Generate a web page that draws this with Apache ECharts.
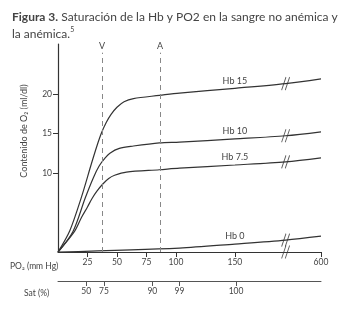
<!DOCTYPE html>
<html>
<head>
<meta charset="utf-8">
<script src="https://cdn.jsdelivr.net/npm/echarts@6/dist/echarts.min.js"></script>
<style>
  html, body {margin:0; padding:0; background:#fff;}
  #main {width:345px; height:310px;}
</style>
</head>
<body>
<div id="main"></div>
<script>
// x = position on the drawn PO2 scale (mm Hg, the axis is broken after 150: 223 is labelled 600)
var hb15 = [[0,0],[10,2.7],[20,7.0],[28,11.0],[33,13.4],[37,15.1],[41,16.4],[45,17.4],[50,18.3],[56,19.0],[64,19.4],[86,19.8],[103,20.1],[150,20.7],[193,21.3],[223,21.9]];
var hb10 = [[0,0],[12.7,2.6],[23,6.8],[30,9.4],[35,10.9],[40,11.9],[44,12.5],[52,13.1],[64,13.4],[86,13.8],[103,13.9],[150,14.3],[193,14.7],[223,15.2]];
var hb75 = [[0,0],[14,2.6],[20,4.4],[25,5.7],[29,6.8],[33,7.7],[38,8.6],[43,9.3],[48,9.7],[58,10.1],[86,10.4],[103,10.6],[150,11.0],[193,11.4],[223,11.9]];
var hb0  = [[0,0],[103,0.5],[150,1.0],[193,1.5],[223,2.0]];

var curveNames = ['Hb 15', 'Hb 10', 'Hb 7.5', 'Hb 0'];
var curveLabelAt = 150;   // x where the curve name sits

var po2Ticks  = [25, 50, 75, 100, 150, 223];
var po2Labels = ['25', '50', '75', '100', '150', '600'];
var satTicks  = [24, 39, 80, 103, 151];
var satLabels = ['50', '75', '90', '99', '100'];
var yTicks = [10, 15, 20];

var refLines = [{name:'V', x:37.3}, {name:'A', x:86.5}];
var breakX = 193;
var breakY = [21.3, 14.7, 11.4, 1.5, 0];

var txt = '#444';
var lineCol = '#333';

var myChart = echarts.init(document.getElementById('main'));

function curveSeries(pts, name, withRef){
    var s = {
        name: name,
        type: 'line',
        smooth: 0.3,
        symbol: 'circle',
        symbolSize: 0,
        showSymbol: true,
        silent: true,
        lineStyle: {color: lineCol, width: 1.2},
        itemStyle: {color: lineCol},
        data: pts.map(function(p){
            if (p[0] === curveLabelAt) {
                return {value: p,
                        label: {show: true, formatter: name, position: 'top', distance: 3,
                                color: txt, fontSize: 9, fontFamily: 'Lato'}};
            }
            return p;
        })
    };
    if (withRef) {
        s.markLine = {
            silent: true,
            symbol: 'none',
            lineStyle: {color: '#888', type: [5, 4], width: 1},
            label: {show: true, position: 'end', distance: 2, color: txt, fontSize: 9, fontFamily: 'Lato'},
            data: refLines.map(function(r){
                return [{coord: [r.x, 0], label: {formatter: r.name}}, {coord: [r.x, 25.2]}];
            })
        };
    }
    return s;
}

var series = [
    curveSeries(hb15, curveNames[0], true),
    curveSeries(hb10, curveNames[1], false),
    curveSeries(hb75, curveNames[2], false),
    curveSeries(hb0,  curveNames[3], false),
    {
        // "//" break marks
        type: 'scatter',
        silent: true,
        clip: false,
        symbol: 'path://M0,16 L6,0 M5,16 L11,0',
        symbolSize: [8, 13],
        itemStyle: {color: 'none', borderColor: lineCol, borderWidth: 1.1},
        data: breakY.map(function(y){ return [breakX, y]; }),
        z: 5
    }
];

option = {
    backgroundColor: '#fff',
    animation: false,
    title: {
        text: '{b|Figura 3.} Saturación de la Hb y PO2 en la sangre no anémica y\nla anémica.{sup|5}',
        left: 7,
        top: 4,
        textStyle: {
            color: txt, fontSize: 12, fontWeight: 'normal', fontFamily: 'Lato', lineHeight: 17,
            rich: {
                b: {fontWeight: 'bold', color: txt, fontSize: 12, fontFamily: 'Lato', lineHeight: 17},
                sup: {fontSize: 7, color: txt, fontFamily: 'Lato', verticalAlign: 'top', padding: [0, 0, 8, 0], lineHeight: 17}
            }
        }
    },
    grid: {left: 58, right: 24, top: 44, bottom: 58},
    xAxis: [{
        type: 'value', min: 0, max: 223,
        splitLine: {show: false},
        axisLine: {lineStyle: {color: lineCol, width: 1.2}},
        axisTick: {customValues: po2Ticks, length: 5, lineStyle: {color: lineCol}},
        axisLabel: {
            customValues: po2Ticks, color: txt, fontSize: 8.5, fontFamily: 'Lato', margin: 6,
            formatter: function(v){ return po2Labels[po2Ticks.indexOf(v)]; }
        }
    }, {
        type: 'value', min: 0, max: 223, position: 'bottom', offset: 29,
        splitLine: {show: false},
        axisLine: {lineStyle: {color: '#555', width: 1}},
        axisTick: {customValues: satTicks, length: 5, lineStyle: {color: '#555'}},
        axisLabel: {
            customValues: satTicks, color: txt, fontSize: 8.5, fontFamily: 'Lato', margin: 6,
            formatter: function(v){ return satLabels[satTicks.indexOf(v)]; }
        }
    }],
    yAxis: {
        type: 'value', min: 0, max: 26.3,
        splitLine: {show: false},
        axisLine: {show: true, lineStyle: {color: lineCol, width: 1.2}},
        axisTick: {show: true, customValues: yTicks, length: 5, lineStyle: {color: lineCol}},
        axisLabel: {customValues: yTicks, color: txt, fontSize: 8.5, fontFamily: 'Lato', margin: 6}
    },
    graphic: [
        {type: 'text', left: 10, top: 262, style: {text: 'PO₂ (mm Hg)', fill: txt, font: '8.5px Lato'}},
        {type: 'text', left: 24, top: 289, style: {text: 'Sat (%)', fill: txt, font: '8.5px Lato'}},
        {type: 'text', x: 24, y: 131, rotation: Math.PI / 2,
         style: {text: 'Contenido de O₂ (ml/dl)', fill: txt, font: '9px Lato', align: 'center', verticalAlign: 'middle'}}
    ],
    series: series
};

myChart.setOption(option);
</script>
</body>
</html>
